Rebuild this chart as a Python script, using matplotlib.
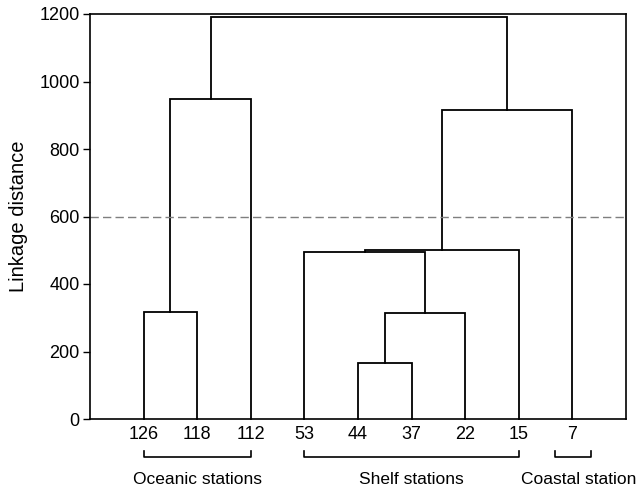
import matplotlib
matplotlib.use("Agg")
import matplotlib.pyplot as plt
from matplotlib.transforms import blended_transform_factory

plt.rcParams['font.family'] = ['Liberation Sans', 'DejaVu Sans']

# ---- data ----
leaf_labels = ['126', '118', '112', '53', '44', '37', '22', '15', '7']
# merges: (left node, right node, linkage distance); nodes 0-8 are leaves, 9+ are clusters
merge_left = [0, 9, 4, 11, 3, 13, 14, 10]
merge_right = [1, 2, 5, 6, 12, 7, 8, 15]
merge_height = [318, 947, 166, 313, 495, 502, 916, 1192]
cut_level = 600
group_names = ['Oceanic stations', 'Shelf stations', 'Coastal station']
group_first = [0, 3, 8]
group_last = [2, 7, 8]

fig = plt.figure(figsize=(6.37, 4.91), dpi=100)
ax = fig.add_axes([90/637, 1-419/491, 536/637, 405/491])

n = len(leaf_labels)
xpos = {i: i + 1 for i in range(n)}
ypos = {i: 0 for i in range(n)}
for k, (l, r, h) in enumerate(zip(merge_left, merge_right, merge_height)):
    node = n + k
    ax.plot([xpos[l], xpos[l], xpos[r], xpos[r]], [ypos[l], h, h, ypos[r]],
            color='black', lw=1.3, solid_joinstyle='miter', clip_on=False)
    xpos[node] = (xpos[l] + xpos[r]) / 2
    ypos[node] = h

ax.axhline(cut_level, color='#7f7f7f', lw=1.0, ls=(0, (6, 3)))

ax.set_xlim(0, n + 1)
ax.set_ylim(0, 1200)
ax.set_yticks(range(0, 1201, 200))
ax.set_xticks(range(1, n + 1))
ax.set_xticklabels(leaf_labels, fontsize=13)
ax.tick_params(axis='x', length=0, pad=5)
ax.tick_params(axis='y', length=5, width=1, labelsize=13, direction='out', pad=2.5)
ax.set_ylabel('Linkage distance', fontsize=14.5, labelpad=8)
for s in ax.spines.values():
    s.set_linewidth(1.2)

trans = blended_transform_factory(ax.transData, ax.transAxes)
yb_top = -(451 - 419) / 405
yb_bot = -(457 - 419) / 405
ytxt = -(479 - 419) / 405
for name, a, b in zip(group_names, group_first, group_last):
    x0, x1 = a + 1, b + 1
    if a == b:
        x0, x1 = x0 - 0.32, x1 + 0.35
    ax.plot([x0, x0, x1, x1], [yb_top, yb_bot, yb_bot, yb_top], color='black',
            lw=1.2, transform=trans, clip_on=False)
    ax.text((x0 + x1) / 2 + (0.1 if a == b else 0), ytxt, name, transform=trans,
            ha='center', va='center', fontsize=12.5)

fig.savefig('out.png', dpi=100)
